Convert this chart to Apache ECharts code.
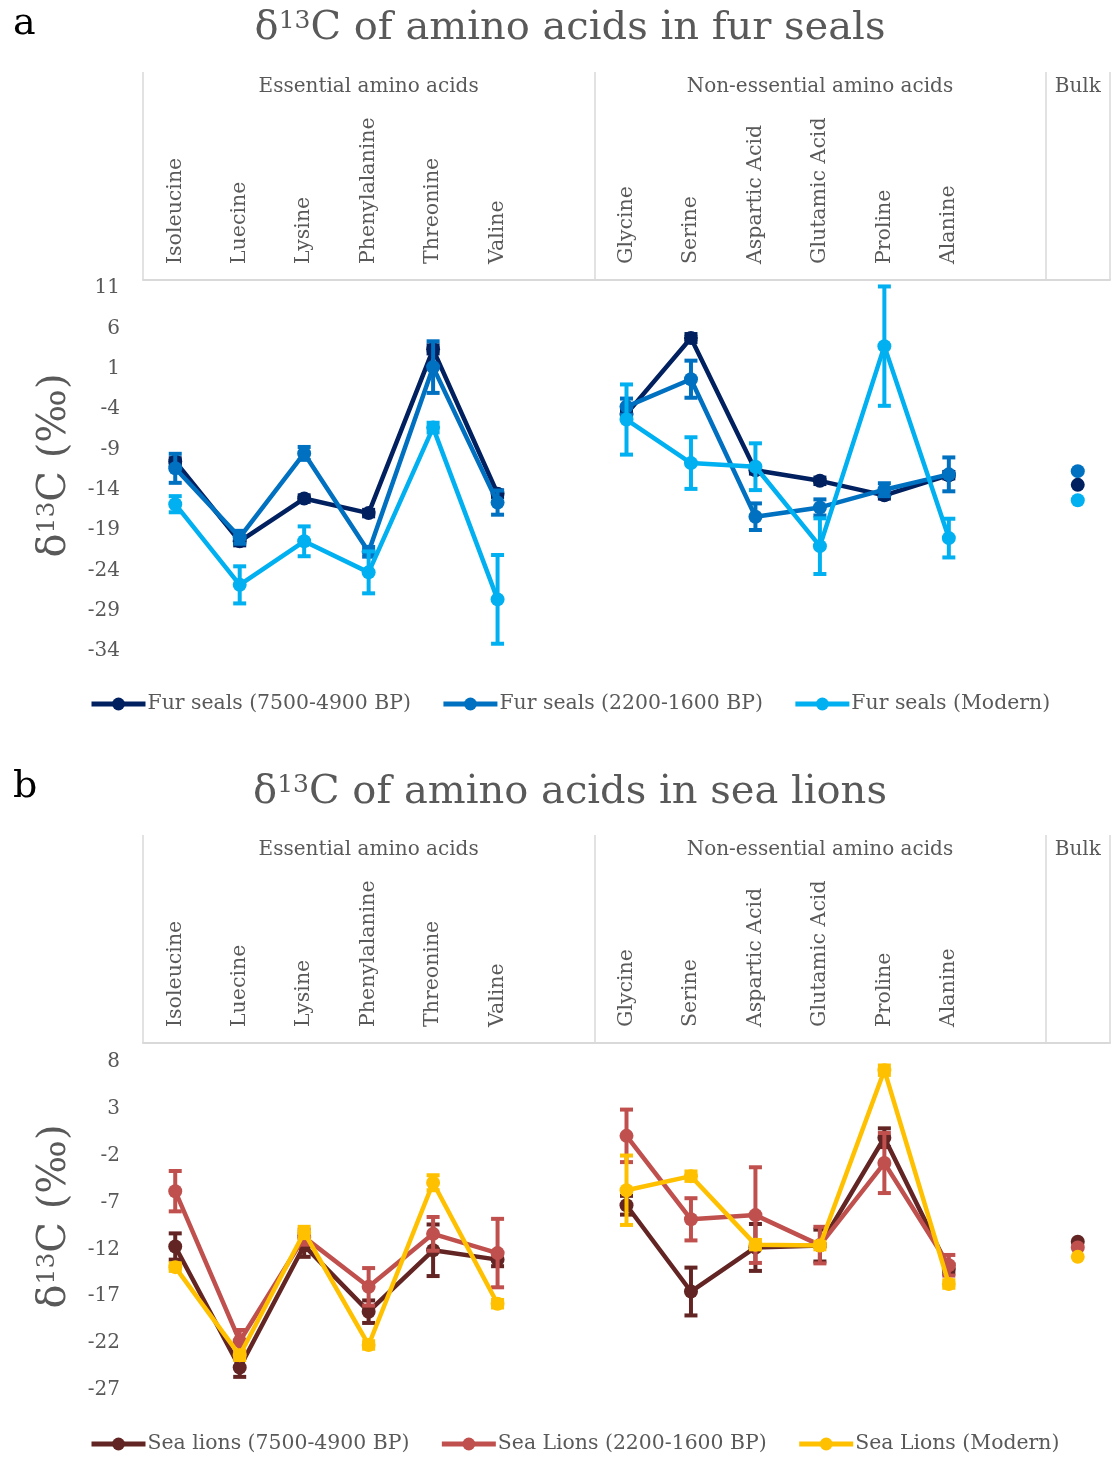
<!DOCTYPE html>
<html>
<head>
<meta charset="utf-8">
<script src="https://cdn.jsdelivr.net/npm/echarts@6/dist/echarts.min.js"></script>
<style>
  html, body { margin: 0; padding: 0; background: #ffffff; }
  #chart { width: 1112px; height: 1459px; }
</style>
</head>
<body>
<div id="chart"></div>
<script>
// Category axis: six essential acids, a spacer, six non-essential acids, a spacer, bulk
const aminoAcids = ['Isoleucine', 'Luecine', 'Lysine', 'Phenylalanine', 'Threonine', 'Valine', '',
  'Glycine', 'Serine', 'Aspartic Acid', 'Glutamic Acid', 'Proline', 'Alanine', '', 'Bulk'];
// Group row above the acid names (label sits in the middle slot of each group)
const groupRow = ['', '', '', 'Essential amino acids', '', '', '', '', '', '', 'Non-essential amino acids', '', '', '', 'Bulk'];
const groupStarts = [0, 7, 14];

// Value-axis tick labels
const furSealTicks = [-34, -29, -24, -19, -14, -9, -4, 1, 6, 11];
const seaLionTicks = [-27, -22, -17, -12, -7, -2, 3, 8];

// Fur seals: mean δ13C and error (‰)
const furSealNames = ['Fur seals (7500-4900 BP)', 'Fur seals (2200-1600 BP)', 'Fur seals (Modern)'];
const furEarly    = [-10.5, -20.4, -15.1, -16.9, 3.4, -14.5, null, -4.6, 4.8, -11.6, -12.9, -14.7, -12.2, null, -13.4];
const furEarlyErr = [0.4, 0.5, 0.4, 0.4, 0.5, 0.4, null, 0.4, 0.5, 0.4, 0.4, 0.4, 0.4, null, null];
const furMid      = [-11.35, -19.9, -9.5, -21.7, 1.2, -15.6, null, -3.7, -0.3, -17.35, -16.2, -14.0, -12.1, null, -11.7];
const furMidErr   = [1.8, 0.8, 0.8, 0.6, 3.2, 1.5, null, 1.0, 2.3, 1.65, 1.0, 0.8, 2.1, null, null];
const furModern    = [-15.8, -25.8, -20.4, -24.25, -6.3, -27.6, null, -5.3, -10.7, -11.15, -21.0, 3.8, -20.0, null, -15.3];
const furModernErr = [1.0, 2.3, 1.85, 2.6, 0.6, 5.5, null, 4.35, 3.2, 2.9, 3.45, 7.4, 2.4, null, null];

// Sea lions: mean δ13C and error (‰)
const seaLionNames = ['Sea lions (7500-4900 BP)', 'Sea Lions (2200-1600 BP)', 'Sea Lions (Modern)'];
const slEarly    = [-11.7, -24.6, -11.6, -18.65, -12.1, -13.1, null, -7.3, -16.5, -11.8, -11.6, -0.1, -14.1, null, -11.2];
const slEarlyErr = [1.4, 1.0, 1.2, 1.2, 2.75, 0.7, null, 1.0, 2.55, 2.5, 1.7, 1.0, 0.5, null, null];
const slMid      = [-5.8, -21.8, -10.7, -16.0, -10.35, -12.4, null, 0.1, -8.8, -8.35, -11.55, -2.8, -13.7, null, -11.8];
const slMidErr   = [2.15, 1.2, 0.8, 2.0, 1.8, 3.65, null, 2.8, 2.25, 5.1, 1.95, 3.2, 1.1, null, null];
const slModern    = [-13.9, -23.3, -10.2, -22.2, -4.9, -17.8, null, -5.7, -4.2, -11.5, -11.6, 7.1, -15.7, null, -12.8];
const slModernErr = [0.4, 0.5, 0.6, 0.4, 0.8, 0.4, null, 3.7, 0.5, 0.5, 0.4, 0.5, 0.4, null, null];

const furColors = ['#002060', '#0070C0', '#00B0F0'];
const seaLionColors = ['#632523', '#C0504D', '#FFC000'];

const FONT = 'DejaVu Serif';
const GREY = '#595959';
const RULE = '#d9d9d9';

const deltaRich = {
  d: { fontSize: 40, color: GREY, fontFamily: FONT, fontWeight: 'normal' },
  s: { fontSize: 25, color: GREY, fontFamily: FONT, fontWeight: 'normal', verticalAlign: 'top' }
};

function panelAxes(gridIndex) {
  return [
    {
      type: 'category', gridIndex, position: 'top', data: aminoAcids, boundaryGap: true,
      axisLine: { show: true, onZero: false, lineStyle: { color: RULE, width: 2 } },
      axisTick: { show: false },
      axisLabel: {
        interval: 0, rotate: -90, margin: 16, fontSize: 20.5, color: GREY, fontFamily: FONT,
        formatter: v => (v === 'Bulk' ? '' : v)
      },
      splitLine: { show: false }
    },
    {
      type: 'category', gridIndex, position: 'top', data: groupRow, boundaryGap: true,
      axisLine: { show: false, onZero: false },
      axisTick: {
        show: true, length: 208, interval: i => groupStarts.includes(i),
        lineStyle: { color: RULE, width: 1.5 }
      },
      axisLabel: { interval: 0, margin: 183, fontSize: 20, color: GREY, fontFamily: FONT },
      splitLine: { show: false }
    }
  ];
}

function valueAxis(gridIndex, min, max, ticks) {
  return {
    type: 'value', gridIndex, min, max,
    axisLine: { show: false }, axisTick: { show: false }, splitLine: { show: false },
    axisLabel: { customValues: ticks, fontSize: 20, color: GREY, fontFamily: FONT, margin: 23 },
    name: '{d|δ}{s|13}{d|C (‰)}', nameLocation: 'middle', nameRotate: 90, nameGap: 68,
    nameTextStyle: { rich: deltaRich }
  };
}

function lineSeries(name, values, color, axisIdx, z) {
  return {
    type: 'line', name, data: values, xAxisIndex: axisIdx * 2, yAxisIndex: axisIdx, z,
    connectNulls: false, showSymbol: true, showAllSymbol: true,
    symbol: 'circle', symbolSize: 14,
    lineStyle: { color, width: 4.5 }, itemStyle: { color },
    emphasis: { disabled: true }
  };
}

function errorBars(values, errs, color, axisIdx, z) {
  const data = [];
  values.forEach((v, i) => {
    if (v != null && errs[i] != null) data.push([i, v - errs[i], v + errs[i]]);
  });
  return {
    type: 'custom', xAxisIndex: axisIdx * 2, yAxisIndex: axisIdx, z, silent: true,
    data, encode: { x: 0, y: [1, 2] },
    renderItem(params, api) {
      const idx = api.value(0);
      const lo = api.coord([idx, api.value(1)]);
      const hi = api.coord([idx, api.value(2)]);
      const half = 6.5;
      const st = { stroke: color, lineWidth: 4 };
      return {
        type: 'group',
        children: [
          { type: 'line', shape: { x1: lo[0], y1: lo[1], x2: hi[0], y2: hi[1] }, style: st },
          { type: 'line', shape: { x1: lo[0] - half, y1: lo[1], x2: lo[0] + half, y2: lo[1] }, style: st },
          { type: 'line', shape: { x1: hi[0] - half, y1: hi[1], x2: hi[0] + half, y2: hi[1] }, style: st }
        ]
      };
    }
  };
}

const furSets = [[furEarly, furEarlyErr], [furMid, furMidErr], [furModern, furModernErr]];
const slSets = [[slEarly, slEarlyErr], [slMid, slMidErr], [slModern, slModernErr]];

const series = [];
furSets.forEach(([v, e], k) => {
  series.push(errorBars(v, e, furColors[k], 0, 10 + 2 * k));
  series.push(lineSeries(furSealNames[k], v, furColors[k], 0, 11 + 2 * k));
});
slSets.forEach(([v, e], k) => {
  series.push(errorBars(v, e, seaLionColors[k], 1, 10 + 2 * k));
  series.push(lineSeries(seaLionNames[k], v, seaLionColors[k], 1, 11 + 2 * k));
});

const legendBase = {
  itemWidth: 54, itemHeight: 16, itemGap: 30,
  lineStyle: { width: 5 },
  textStyle: { fontSize: 20.4, color: GREY, fontFamily: FONT, padding: [0, 0, 0, -3] }
};

const option = {
  animation: false,
  backgroundColor: '#ffffff',
  textStyle: { fontFamily: FONT },
  title: [
    { text: 'a', left: 8, top: 0, textStyle: { fontSize: 38, color: '#000', fontWeight: 'normal', fontFamily: FONT } },
    { text: '{d|δ}{s|13}{d|C of amino acids in fur seals}', left: 565, textAlign: 'center', top: 4,
      textStyle: { fontWeight: 'normal', rich: deltaRich } },
    { text: 'b', left: 8, top: 763, textStyle: { fontSize: 38, color: '#000', fontWeight: 'normal', fontFamily: FONT } },
    { text: '{d|δ}{s|13}{d|C of amino acids in sea lions}', left: 565, textAlign: 'center', top: 768,
      textStyle: { fontWeight: 'normal', rich: deltaRich } }
  ],
  legend: [
    Object.assign({ data: furSealNames, left: 84, top: 689 }, legendBase),
    Object.assign({ data: seaLionNames, left: 84, top: 1429 }, legendBase)
  ],
  grid: [
    { left: 143, right: 2, top: 280, height: 371 },
    { left: 143, right: 2, top: 1043, height: 347 }
  ],
  xAxis: [...panelAxes(0), ...panelAxes(1)],
  yAxis: [valueAxis(0, -34, 12, furSealTicks), valueAxis(1, -27, 10, seaLionTicks)],
  series
};

const chart = echarts.init(document.getElementById('chart'));
chart.setOption(option);
</script>
</body>
</html>
